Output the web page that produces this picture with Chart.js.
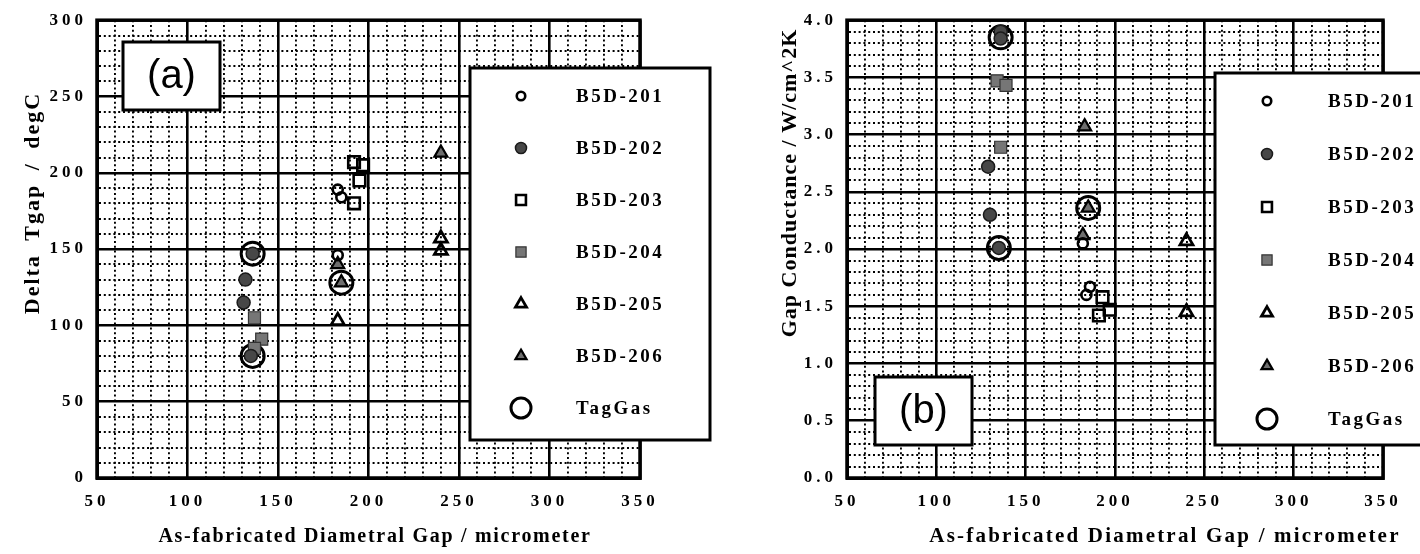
<!DOCTYPE html>
<html><head><meta charset="utf-8">
<script src="https://cdn.jsdelivr.net/npm/chart.js@4/dist/chart.umd.min.js"></script>
<style>
html,body{margin:0;padding:0;background:#fff;width:1420px;height:554px;overflow:hidden}
canvas{position:absolute;top:0}
#ca{left:0}
#cb{left:760px}
</style></head><body>
<canvas id="ca" width="760" height="554"></canvas>
<canvas id="cb" width="660" height="554"></canvas>
<script>
// Series names, shared by both panels
const seriesNames = ['B5D-201', 'B5D-202', 'B5D-203', 'B5D-204', 'B5D-205', 'B5D-206', 'TagGas'];

// Panel (a): temperature jump across the gap, [gap µm, ΔT degC]
const tgap201 = [[183, 189], [185, 184], [183, 146]];
const tgap202 = [[136, 147], [132, 130], [131, 115], [135, 80]];
const tgap203 = [[192, 207], [197, 205], [195, 195], [192, 180]];
const tgap204 = [[137, 105], [141, 91], [137, 85]];
const tgap205 = [[183, 103], [240, 157], [240, 149]];
const tgap206 = [[185, 128], [183, 140], [240, 213]];
const tgapTag = [[136, 147], [185, 128], [136, 80]];

// Panel (b): gap conductance, [gap µm, W/cm^2K]
const hgap201 = [[182, 2.05], [186, 1.67], [184, 1.60]];
const hgap202 = [[136, 3.90], [136, 3.84], [129, 2.72], [130, 2.30], [135, 2.01]];
const hgap203 = [[193, 1.58], [197, 1.47], [191, 1.42]];
const hgap204 = [[134, 3.47], [139, 3.43], [136, 2.89]];
const hgap205 = [[240, 2.07], [240, 1.45]];
const hgap206 = [[183, 3.07], [185, 2.36], [182, 2.12]];
const hgapTag = [[136, 3.85], [185, 2.36], [135, 2.01]];

// Axis ranges and tick spacing
const gapMin = 50, gapMax = 350, gapMajor = 50, gapMinor = 10;
const tgapMin = 0, tgapMax = 300, tgapMajor = 50, tgapMinor = 10;
const hgapMin = 0, hgapMax = 4, hgapMajor = 0.5, hgapMinor = 0.1;

// Marker styles for each series
const markerStyles = [
  {pointStyle: 'circle',   radius: 5,   backgroundColor: 'rgba(0,0,0,0)', borderColor: '#000', borderWidth: 2.6},
  {pointStyle: 'circle',   radius: 6.5, backgroundColor: '#474747', borderColor: '#1a1a1a', borderWidth: 1.5},
  {pointStyle: 'rect',     radius: 8.2, backgroundColor: 'rgba(0,0,0,0)', borderColor: '#000', borderWidth: 2.6},
  {pointStyle: 'rect',     radius: 8.5, backgroundColor: '#767676', borderColor: '#333', borderWidth: 1.2},
  {pointStyle: 'triangle', radius: 7.5, backgroundColor: 'rgba(0,0,0,0)', borderColor: '#000', borderWidth: 2.8},
  {pointStyle: 'triangle', radius: 7.5, backgroundColor: '#6e6e6e', borderColor: '#000', borderWidth: 2.2},
  {pointStyle: 'circle',   radius: 11.5, backgroundColor: 'rgba(0,0,0,0)', borderColor: '#000', borderWidth: 3}
];

function toPoints(arr) { return arr.map(p => ({x: p[0], y: p[1]})); }

function buildDatasets(seriesList) {
  return seriesList.map((arr, i) => Object.assign({
    label: seriesNames[i],
    data: toPoints(arr),
    showLine: false
  }, markerStyles[i], {pointRadius: markerStyles[i].radius, pointHoverRadius: markerStyles[i].radius}));
}

const serifBold = "'Liberation Serif', 'Times New Roman', serif";

// Extra drawing: frame, axis titles, panel tag and legend box
const panelDecor = {
  id: 'panelDecor',
  beforeDraw(chart) {
    chart.ctx.letterSpacing = '4px';
  },
  afterDatasetsDraw(chart, args, o) {
    const ctx = chart.ctx;
    const a = chart.chartArea;
    ctx.save();
    ctx.letterSpacing = '0px';
    // plot frame
    ctx.strokeStyle = '#000';
    ctx.lineWidth = 3.5;
    ctx.strokeRect(a.left, a.top, a.right - a.left, a.bottom - a.top);

    // panel tag box
    const t = o.tag;
    ctx.fillStyle = '#fff';
    ctx.fillRect(t.x, t.y, t.w, t.h);
    ctx.lineWidth = 3;
    ctx.strokeRect(t.x, t.y, t.w, t.h);
    ctx.fillStyle = '#000';
    ctx.font = "40px 'Liberation Sans', Arial, sans-serif";
    ctx.textAlign = 'center';
    ctx.textBaseline = 'middle';
    ctx.fillText(t.text, t.x + t.w / 2, t.y + t.h / 2 + 1);

    // legend box
    const L = o.legend;
    ctx.fillStyle = '#fff';
    ctx.fillRect(L.x, L.y, L.w, L.h);
    ctx.lineWidth = 3;
    ctx.strokeRect(L.x, L.y, L.w, L.h);
    chart.data.datasets.forEach((ds, i) => {
      const cy = L.y + L.first + i * L.step;
      const st = markerStyles[i];
      ctx.save();
      ctx.fillStyle = st.backgroundColor;
      ctx.strokeStyle = st.borderColor;
      ctx.lineWidth = st.borderWidth;
      const r = i === 6 ? 10 : st.radius * 0.85;
      Chart.helpers.drawPoint(ctx, {pointStyle: st.pointStyle, radius: r, borderWidth: st.borderWidth, rotation: 0}, L.x + L.markerX, cy);
      ctx.restore();
      ctx.fillStyle = '#000';
      ctx.font = 'bold 19px ' + serifBold;
      ctx.letterSpacing = '2.5px';
      ctx.textAlign = 'left';
      ctx.textBaseline = 'middle';
      ctx.fillText(ds.label, L.x + L.textX, cy + 1);
    });

    // axis titles
    ctx.fillStyle = '#000';
    ctx.textAlign = 'center';
    ctx.textBaseline = 'middle';
    ctx.font = 'bold ' + o.xTitle.size + 'px ' + serifBold;
    ctx.letterSpacing = o.xTitle.spacing + 'px';
    ctx.wordSpacing = (o.xTitle.wordSpacing || 0) + 'px';
    ctx.fillText(o.xTitle.text, o.xTitle.x, o.xTitle.y);
    ctx.font = 'bold ' + o.yTitle.size + 'px ' + serifBold;
    ctx.letterSpacing = o.yTitle.spacing + 'px';
    ctx.wordSpacing = (o.yTitle.wordSpacing || 0) + 'px';
    ctx.translate(o.yTitle.x, o.yTitle.y);
    ctx.rotate(-Math.PI / 2);
    ctx.fillText(o.yTitle.text, 0, 0);
    ctx.restore();
  }
};

function isMajor(v, major) {
  return Math.abs(Math.round(v / major * 1000) % 1000) === 0;
}
function gridStyle(major) {
  return {
    color: '#000',
    drawTicks: false,
    lineWidth: c => (isMajor(c.tick.value, major) ? 2.6 : 1.9)
  };
}
function borderStyle(major) {
  return {
    display: true, color: '#000', width: 3,
    dash: c => (c.tick && isMajor(c.tick.value, major) ? [] : [2, 2.8])
  };
}

function makeChart(id, series, yRange, deco, layout) {
  return new Chart(document.getElementById(id), {
    type: 'scatter',
    data: {datasets: buildDatasets(series)},
    options: {
      responsive: false,
      animation: false,
      devicePixelRatio: 1,
      layout: {padding: layout.padding},
      plugins: {legend: {display: false}, tooltip: {enabled: false}, panelDecor: deco},
      scales: {
        x: {
          type: 'linear', min: gapMin, max: gapMax,
          afterFit: s => { s.height = layout.xHeight; },
          grid: gridStyle(gapMajor),
          border: borderStyle(gapMajor),
          ticks: {
            stepSize: gapMinor, autoSkip: false, maxRotation: 0, padding: 13,
            color: '#000', font: {family: serifBold, weight: 'bold', size: 17},
            callback: v => (isMajor(v, gapMajor) ? String(v) : '')
          }
        },
        y: {
          type: 'linear', min: yRange.min, max: yRange.max,
          afterFit: s => { s.width = layout.yWidth; },
          grid: gridStyle(yRange.major),
          border: borderStyle(yRange.major),
          ticks: {
            stepSize: yRange.minor, autoSkip: false, padding: 10,
            color: '#000', font: {family: serifBold, weight: 'bold', size: 17},
            callback: v => (isMajor(v, yRange.major) ? yRange.fmt(v) : '')
          }
        }
      }
    },
    plugins: [panelDecor]
  });
}

makeChart('ca',
  [tgap201, tgap202, tgap203, tgap204, tgap205, tgap206, tgapTag],
  {min: tgapMin, max: tgapMax, major: tgapMajor, minor: tgapMinor, fmt: v => String(Math.round(v))},
  {
    tag: {x: 123, y: 42, w: 97, h: 68, text: '(a)'},
    legend: {x: 470, y: 68, w: 240, h: 372, first: 28, step: 52, markerX: 51, textX: 106},
    xTitle: {text: 'As-fabricated Diametral Gap / micrometer', x: 375, y: 537, size: 20, spacing: 1.7},
    yTitle: {text: 'Delta Tgap / degC', x: 33, y: 203, size: 22, spacing: 2, wordSpacing: 6}
  },
  {padding: {top: 14, right: 120, left: 0, bottom: 0}, xHeight: 76, yWidth: 97}
);

makeChart('cb',
  [hgap201, hgap202, hgap203, hgap204, hgap205, hgap206, hgapTag],
  {min: hgapMin, max: hgapMax, major: hgapMajor, minor: hgapMinor, fmt: v => v.toFixed(1)},
  {
    tag: {x: 115, y: 377, w: 97, h: 68, text: '(b)'},
    legend: {x: 455, y: 73, w: 240, h: 372, first: 28, step: 53, markerX: 52, textX: 113},
    xTitle: {text: 'As-fabricated Diametral Gap / micrometer', x: 405, y: 537, size: 21, spacing: 2.2},
    yTitle: {text: 'Gap Conductance / W/cm^2K', x: 30, y: 183, size: 22, spacing: 1}
  },
  {padding: {top: 16, right: 37, left: 0, bottom: 0}, xHeight: 76, yWidth: 87}
);
</script>
</body></html>
